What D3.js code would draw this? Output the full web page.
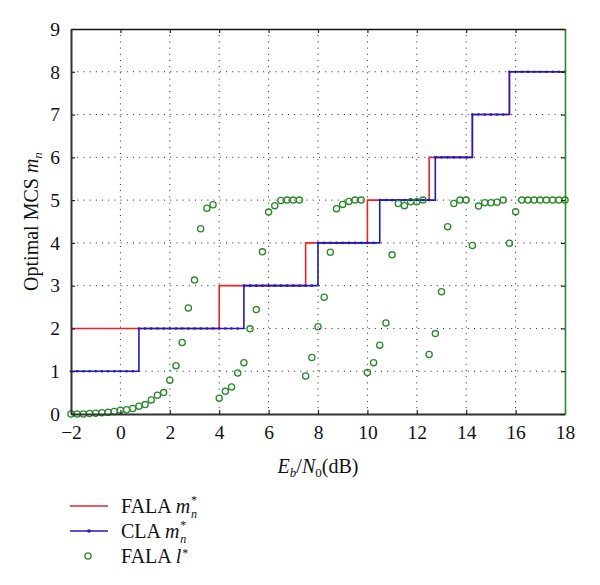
<!DOCTYPE html>
<html>
<head>
<meta charset="utf-8">
<script src="https://cdn.jsdelivr.net/npm/d3@7"></script>
<style>
  html, body { margin: 0; padding: 0; background: #fff; }
  svg { display: block; }
  text { font-family: "Liberation Serif", "DejaVu Serif", serif; fill: #111; }
</style>
</head>
<body>
<svg id="chart" width="600" height="585"></svg>
<script>
// ---- Data ----
const snr = [-2,-1.75,-1.5,-1.25,-1,-0.75,-0.5,-0.25,0,0.25,0.5,0.75,1,1.25,1.5,1.75,2,2.25,2.5,2.75,
  3,3.25,3.5,3.75,4,4.25,4.5,4.75,5,5.25,5.5,5.75,6,6.25,6.5,6.75,7,7.25,7.5,7.75,
  8,8.25,8.5,8.75,9,9.25,9.5,9.75,10,10.25,10.5,10.75,11,11.25,11.5,11.75,12,12.25,12.5,12.75,
  13,13.25,13.5,13.75,14,14.25,14.5,14.75,15,15.25,15.5,15.75,16,16.25,16.5,16.75,17,17.25,17.5,17.75,18];

const falaM = [2,2,2,2,2,2,2,2,2,2,2,2,2,2,2,2,2,2,2,2,2,2,2,2,
  3,3,3,3,3,3,3,3,3,3,3,3,3,3,
  4,4,4,4,4,4,4,4,4,4,
  5,5,5,5,5,5,5,5,5,5,
  6,6,6,6,6,6,6,
  7,7,7,7,7,7,
  8,8,8,8,8,8,8,8,8,8];

const claM = [1,1,1,1,1,1,1,1,1,1,1,
  2,2,2,2,2,2,2,2,2,2,2,2,2,2,2,2,2,
  3,3,3,3,3,3,3,3,3,3,3,3,
  4,4,4,4,4,4,4,4,4,4,
  5,5,5,5,5,5,5,5,5,
  6,6,6,6,6,6,
  7,7,7,7,7,7,
  8,8,8,8,8,8,8,8,8,8];

const falaL = [0,0,0,0.01,0.02,0.03,0.04,0.06,0.09,0.1,0.13,0.18,0.22,0.33,0.44,0.5,0.79,1.13,1.67,2.48,3.13,4.33,4.81,4.89,
  0.37,0.53,0.63,0.96,1.2,1.99,2.44,3.79,4.72,4.87,4.99,5,5,5,
  0.89,1.32,2.04,2.73,3.78,4.8,4.9,4.97,5,5,
  0.97,1.2,1.61,2.13,3.72,4.92,4.87,4.96,4.96,5,
  1.39,1.88,2.86,4.38,4.92,5,5,
  3.94,4.86,4.94,4.94,4.95,5,
  3.99,4.73,5,5,5,5,5,5,5,5];

const xTicks = [-2,0,2,4,6,8,10,12,14,16,18];
const yTicks = [0,1,2,3,4,5,6,7,8,9];

// ---- Layout ----
const svg = d3.select("#chart");
const L = 71, R = 565, T = 29, B = 414;
const x = d3.scaleLinear().domain([-2, 18]).range([L, R]);
const y = d3.scaleLinear().domain([0, 9]).range([B, T]);

const RED = "#e8262a", BLUE = "#1c1cc0", GREEN = "#2a8a2a";

// grid
const grid = svg.append("g");
grid.selectAll("line.gx").data(xTicks.filter(d => d > -2 && d < 18)).enter().append("line")
  .attr("x1", d => x(d)).attr("x2", d => x(d)).attr("y1", T).attr("y2", B)
  .attr("stroke", "#222").attr("stroke-width", 1).attr("stroke-dasharray", "1,5.2");
grid.selectAll("line.gy").data(yTicks.filter(d => d > 0 && d < 9)).enter().append("line")
  .attr("x1", L).attr("x2", R).attr("y1", d => y(d)).attr("y2", d => y(d))
  .attr("stroke", "#222").attr("stroke-width", 1).attr("stroke-dasharray", "1,5.2");

// series
const pts = (vals) => snr.map((s, i) => [s, vals[i]]);
const stepLine = d3.line().x(d => x(d[0])).y(d => y(d[1])).curve(d3.curveStepAfter);

svg.append("path").attr("d", stepLine(pts(falaM)))
  .attr("fill", "none").attr("stroke", RED).attr("stroke-width", 1.6);
svg.append("path").attr("d", stepLine(pts(claM)))
  .attr("fill", "none").attr("stroke", BLUE).attr("stroke-width", 1.6);
svg.append("g").selectAll("circle").data(pts(claM)).enter().append("circle")
  .attr("cx", d => x(d[0])).attr("cy", d => y(d[1])).attr("r", 1.3).attr("fill", BLUE);

svg.append("g").selectAll("circle").data(pts(falaL)).enter().append("circle")
  .attr("cx", d => x(d[0])).attr("cy", d => y(d[1])).attr("r", 3.1)
  .attr("fill", "none").attr("stroke", GREEN).attr("stroke-width", 1.3);

// axes
const axB = svg.append("g").attr("transform", `translate(0,${B})`)
  .call(d3.axisBottom(x).tickValues(xTicks).tickSizeInner(-4).tickSizeOuter(0).tickPadding(11));
const axT = svg.append("g").attr("transform", `translate(0,${T})`)
  .call(d3.axisTop(x).tickValues(xTicks).tickSizeInner(-4).tickSizeOuter(0).tickFormat(""));
const axL = svg.append("g").attr("transform", `translate(${L},0)`)
  .call(d3.axisLeft(y).tickValues(yTicks).tickSizeInner(-4).tickSizeOuter(0).tickPadding(11));
const axR = svg.append("g").attr("transform", `translate(${R},0)`)
  .call(d3.axisRight(y).tickValues(yTicks).tickSizeInner(-4).tickSizeOuter(0).tickFormat(""));

[axB, axT, axL, axR].forEach(a => {
  a.selectAll("text").style("font-family", '"Liberation Serif", serif').style("font-size", "19.5px").attr("fill", "#111");
  a.selectAll(".tick line").attr("stroke", "#222").attr("stroke-width", 1.2);
});
axB.select(".domain").attr("stroke", "#333").attr("stroke-width", 2);
axL.select(".domain").attr("stroke", "#333").attr("stroke-width", 2);
axT.select(".domain").attr("stroke", "#111").attr("stroke-width", 1.5);
axR.select(".domain").attr("stroke", GREEN).attr("stroke-width", 1.6);
axB.selectAll("text").attr("dy", "0.71em");

// axis labels
const xl = svg.append("text").attr("x", (L + R) / 2).attr("y", 473)
  .attr("text-anchor", "middle").style("font-size", "20px");
xl.append("tspan").attr("font-style", "italic").text("E");
xl.append("tspan").attr("font-style", "italic").attr("dy", 4).style("font-size", "13px").text("b");
xl.append("tspan").attr("dy", -4).text("/");
xl.append("tspan").attr("font-style", "italic").text("N");
xl.append("tspan").attr("dy", 4).style("font-size", "13px").text("0");
xl.append("tspan").attr("dy", -4).text("(dB)");

const yl = svg.append("text").attr("transform", `translate(38,${(T + B) / 2}) rotate(-90)`)
  .attr("text-anchor", "middle").style("font-size", "20px");
yl.append("tspan").text("Optimal MCS ");
yl.append("tspan").attr("font-style", "italic").text("m");
yl.append("tspan").attr("font-style", "italic").attr("dy", 4).style("font-size", "13px").text("n");

// legend
const leg = svg.append("g");
const rows = [
  { y: 506, name: "FALA ", sym: "m", sup: "*", sub: "n", kind: "red" },
  { y: 531, name: "CLA ", sym: "m", sup: "*", sub: "n", kind: "blue" },
  { y: 556, name: "FALA ", sym: "l", sup: "*", sub: null, kind: "green" }
];
rows.forEach(r => {
  if (r.kind === "red") {
    leg.append("line").attr("x1", 70).attr("x2", 108).attr("y1", r.y).attr("y2", r.y)
      .attr("stroke", RED).attr("stroke-width", 1.6);
  } else if (r.kind === "blue") {
    leg.append("line").attr("x1", 70).attr("x2", 108).attr("y1", r.y).attr("y2", r.y)
      .attr("stroke", BLUE).attr("stroke-width", 1.6);
    leg.append("circle").attr("cx", 89).attr("cy", r.y).attr("r", 1.8).attr("fill", BLUE);
  } else {
    leg.append("circle").attr("cx", 88).attr("cy", r.y).attr("r", 3.1)
      .attr("fill", "none").attr("stroke", GREEN).attr("stroke-width", 1.3);
  }
  const ty = r.y + 7;
  const t = leg.append("text").attr("x", 121).attr("y", ty).style("font-size", "20px");
  t.append("tspan").text(r.name);
  t.append("tspan").attr("font-style", "italic").text(r.sym);
  const w = t.node().getComputedTextLength();
  leg.append("text").attr("x", 121 + w + 1).attr("y", r.sub ? ty - 9.5 : ty - 6)
    .style("font-size", "12px").text(r.sup);
  if (r.sub) {
    leg.append("text").attr("x", 121 + w + 1).attr("y", ty + 4.5).attr("font-style", "italic")
      .style("font-size", "12px").text(r.sub);
  }
});
</script>
</body>
</html>
